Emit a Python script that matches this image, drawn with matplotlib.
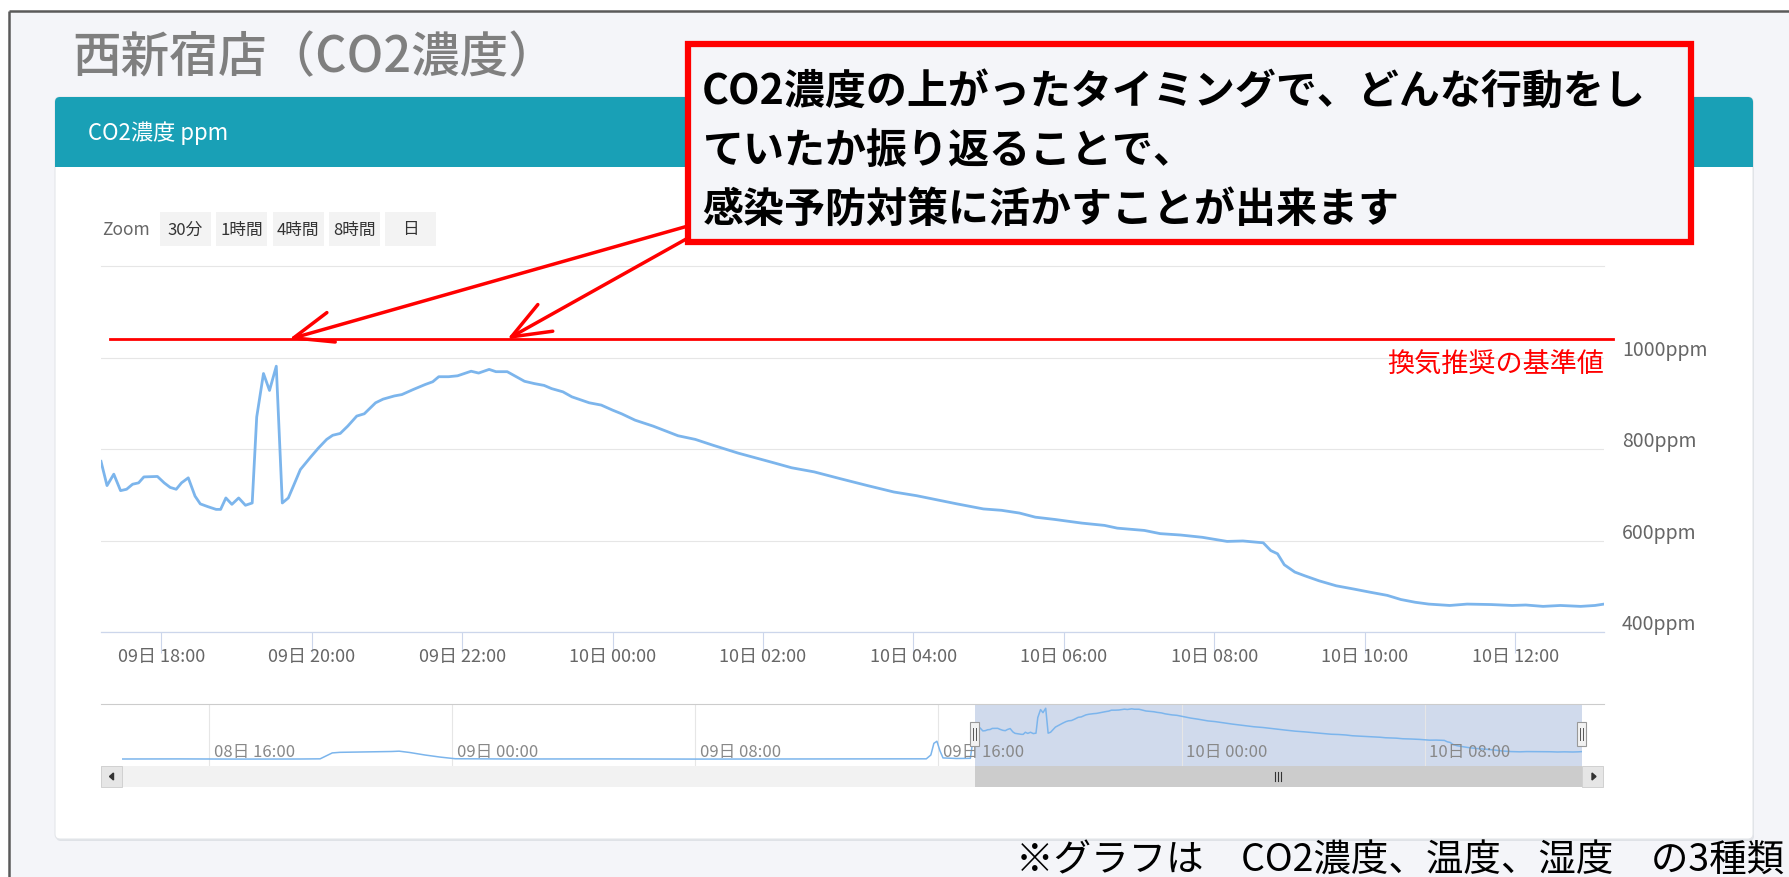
import matplotlib.pyplot as plt
from matplotlib import transforms
from matplotlib.patches import Rectangle, FancyBboxPatch, Polygon

plt.rcParams['font.family'] = ['Noto Sans CJK JP', 'DejaVu Sans']

W, H = 1790, 878

# CO2 readings, hours counted from 09日 00:00
hours = [17.20, 17.28, 17.37, 17.46, 17.54, 17.62, 17.70, 17.77, 17.95, 18.04,
         18.12, 18.20, 18.27, 18.36, 18.45, 18.52, 18.62, 18.73, 18.79, 18.86,
         18.94, 19.03, 19.12, 19.21, 19.27, 19.36, 19.44, 19.53, 19.61, 19.69,
         19.76, 19.85, 19.99, 20.09, 20.20, 20.28, 20.38, 20.48, 20.60, 20.70,
         20.85, 20.95, 21.10, 21.20, 21.35, 21.51, 21.61, 21.69, 21.82, 21.94,
         22.12, 22.22, 22.36, 22.45, 22.60, 22.83, 22.96, 23.09, 23.19, 23.34,
         23.46, 23.69, 23.85, 24.00, 24.12, 24.30, 24.54, 24.87, 25.10, 25.34,
         25.67, 26.14, 26.38, 26.68, 27.03, 27.39, 27.74, 28.04, 28.34, 28.58,
         28.93, 29.17, 29.41, 29.62, 29.88, 30.24, 30.54, 30.71, 31.07, 31.28,
         31.55, 31.84, 32.17, 32.38, 32.58, 32.65, 32.75, 32.84, 32.93, 33.07,
         33.20, 33.39, 33.62, 33.85, 34.07, 34.30, 34.48, 34.67, 34.85, 35.13,
         35.36, 35.68, 35.96, 36.14, 36.37, 36.60, 36.87, 37.06, 37.18]
co2 = [773, 720, 745, 709, 712, 723, 726, 739, 740, 726,
       716, 712, 726, 737, 697, 680, 674, 668, 668, 693,
       679, 693, 677, 682, 870, 965, 928, 981, 682, 693,
       720, 755, 783, 802, 821, 830, 834, 850, 872, 877,
       901, 909, 916, 919, 930, 941, 947, 958, 958, 960,
       970, 966, 974, 969, 969, 948, 943, 939, 932, 925,
       914, 901, 896, 885, 877, 863, 850, 829, 821, 808,
       791, 770, 759, 750, 735, 720, 706, 698, 688, 680,
       669, 666, 660, 651, 646, 638, 633, 627, 622, 615,
       612, 607, 598, 599, 596, 595, 578, 571, 547, 531,
       523, 512, 501, 494, 487, 480, 471, 465, 461, 458,
       461, 460, 458, 459, 456, 458, 456, 458, 461]

# earlier readings only shown in the navigator
nav_hours_before = [-10.87, -9.0, -7.0, -5.0, -4.35, -4.15, -3.95, -3.7, -3.2, -2.6,
                    -2.0, -1.75, -1.4, -0.9, -0.4, 0.1, 2.0, 5.0, 8.0, 11.0,
                    14.0, 15.6, 15.75, 15.85, 15.95, 16.05, 16.15, 16.6, 17.05]
nav_co2_before = [372, 373, 371, 372, 374, 410, 445, 452, 455, 458,
                  462, 466, 450, 420, 395, 375, 372, 373, 371, 372,
                  373, 374, 420, 560, 585, 470, 385, 378, 380]

x_ticks = [18, 20, 22, 24, 26, 28, 30, 32, 34, 36]
x_tick_labels = ['09日 18:00', '09日 20:00', '09日 22:00', '10日 00:00', '10日 02:00',
                 '10日 04:00', '10日 06:00', '10日 08:00', '10日 10:00', '10日 12:00']
y_ticks = [400, 600, 800, 1000]
y_tick_labels = ['400ppm', '600ppm', '800ppm', '1000ppm']
nav_ticks = [-8, 0, 8, 16, 24, 32]
nav_tick_labels = ['08日 16:00', '09日 00:00', '09日 08:00', '09日 16:00', '10日 00:00', '10日 08:00']
zoom_buttons = ['30分', '1時間', '4時間', '8時間', '日']

title = '西新宿店（CO2濃度）'
panel_title = 'CO2濃度 ppm'
ref_label = '換気推奨の基準値'
ref_line = 1040
callout_lines = ['CO2濃度の上がったタイミングで、どんな行動をし',
                 'ていたか振り返ることで、',
                 '感染予防対策に活かすことが出来ます']
arrow_tips = [19.7, 22.6]
note = '※グラフは　CO2濃度、温度、湿度　の3種類'

PAGE = '#f4f5f9'
TEAL = '#19a0b6'
LINE = '#7cb5ec'

fig = plt.figure(figsize=(W / 100, H / 100), dpi=100)
fig.patch.set_facecolor('white')

# background layer in pixel coordinates
bg = fig.add_axes([0, 0, 1, 1], zorder=0)
bg.set_xlim(0, W)
bg.set_ylim(H, 0)
bg.axis('off')

bg.add_patch(Rectangle((9, 12), W - 9, H - 12, facecolor=PAGE, edgecolor='none'))
bg.plot([9, 9], [12, H], color='#5a5a5a', lw=1.8, solid_capstyle='butt')
bg.plot([9, W], [12, 12], color='#5a5a5a', lw=1.8, solid_capstyle='butt')

bg.text(72, 58, title, fontsize=35, fontweight='medium', color='#7f7f7f', va='center', ha='left')

# card
bg.add_patch(FancyBboxPatch((56, 100), 1698, 742, boxstyle='round,pad=0,rounding_size=5',
                            facecolor='#dfe2e7', edgecolor='none'))
bg.add_patch(FancyBboxPatch((55, 98), 1698, 742, boxstyle='round,pad=0,rounding_size=5',
                            facecolor='white', edgecolor='#e4e6ea', lw=0.8))
bg.add_patch(FancyBboxPatch((55, 98), 1698, 70, boxstyle='round,pad=0,rounding_size=5',
                            facecolor=TEAL, edgecolor='none'))
bg.add_patch(Rectangle((55, 140), 1698, 28, facecolor=TEAL, edgecolor='none'))
bg.text(88, 133, panel_title, fontsize=16, color='white', va='center', ha='left')

# zoom buttons
bg.text(102, 230, 'Zoom', fontsize=12.5, color='#666666', va='center', ha='left')
for i, lab in enumerate(zoom_buttons):
    x0 = 160 + i * 56.3
    bg.add_patch(Rectangle((x0, 213), 51, 34, facecolor='#f3f3f3', edgecolor='none'))
    bg.text(x0 + 25.5, 230, lab, fontsize=12, color='#333333', va='center', ha='center')

bg.text(1016, 860, note, fontsize=27, color='black', va='center', ha='left')

# main chart
ax = fig.add_axes([101 / W, 1 - 633 / H, 1503 / W, 366 / H], zorder=2)
ax.patch.set_alpha(0)
ax.plot(hours, co2, color=LINE, lw=2.0, solid_joinstyle='round', zorder=2)
ax.set_xlim(hours[0], hours[-1])
ax.set_ylim(400, 1200)
for s in ['left', 'right']:
    ax.spines[s].set_visible(False)
ax.spines['top'].set_color('#e6e6e6')
ax.spines['top'].set_linewidth(0.8)
ax.spines['bottom'].set_color('#ccd6eb')
ax.spines['bottom'].set_linewidth(0.9)
ax.set_yticks(y_ticks)
ax.yaxis.grid(True, color='#e6e6e6', lw=0.8)
ax.set_axisbelow(True)
ax.tick_params(axis='y', length=0, labelleft=False)
ax.set_xticks(x_ticks, x_tick_labels)
ax.tick_params(axis='x', length=15, width=0.8, color='#ccd6eb', pad=-4,
               labelsize=13, labelcolor='#666666')

ylab_tr = transforms.offset_copy(ax.get_yaxis_transform(), fig=fig, x=13, y=6, units='points')
for v, lab in zip(y_ticks, y_tick_labels):
    ax.text(1.0, v, lab, transform=ylab_tr, fontsize=14, color='#666666', va='center', ha='left')

ax.axhline(ref_line, xmin=0.006, xmax=1.006, color='red', lw=2.0, clip_on=False, zorder=3)
ref_tr = transforms.offset_copy(ax.get_yaxis_transform(), fig=fig, x=0, y=-8.5, units='points')
ax.text(1.0, ref_line, ref_label, transform=ref_tr, fontsize=19.5, color='red', va='top', ha='right')

# navigator
nav_x0 = nav_hours_before[0]
nav_x1 = hours[-1]
nav = fig.add_axes([122 / W, 1 - 767 / H, 1460 / W, 62 / H], zorder=2)
nav.patch.set_alpha(0)
nav.plot(nav_hours_before + hours, nav_co2_before + co2, color=LINE, lw=1.1)
nav.set_xlim(nav_x0, nav_x1)
nav.set_ylim(288, 1032)
for s in nav.spines.values():
    s.set_visible(False)
nav.set_xticks(nav_ticks)
nav.set_yticks([])
nav.tick_params(length=0, labelbottom=False, labelleft=False)
nav.grid(axis='x', color='#e6e6e6', lw=0.8)
nav.axvspan(hours[0], hours[-1], color=(0.4, 0.52, 0.76, 0.3), lw=0)
nav_tr = transforms.offset_copy(nav.get_xaxis_transform(), fig=fig, x=3.2, units='points')
for t, lab in zip(nav_ticks, nav_tick_labels):
    nav.text(t, 0.24, lab, transform=nav_tr, fontsize=12, color='#888888', va='center', ha='left')

# overlay: navigator frame, scrollbar, callout
ov = fig.add_axes([0, 0, 1, 1], zorder=5)
ov.set_xlim(0, W)
ov.set_ylim(H, 0)
ov.axis('off')
ov.patch.set_alpha(0)

sel_l = 122 + (hours[0] - nav_x0) / (nav_x1 - nav_x0) * 1460
sel_r = 122 + (hours[-1] - nav_x0) / (nav_x1 - nav_x0) * 1460

ov.plot([101, 1604], [705, 705], color='#cccccc', lw=0.8)
ov.add_patch(Rectangle((101, 767), 1503, 21, facecolor='#f2f2f2', edgecolor='none'))
ov.add_patch(Rectangle((sel_l, 767), sel_r - sel_l, 21, facecolor='#cccccc', edgecolor='none'))
for bx in (101, 1582):
    ov.add_patch(Rectangle((bx, 767), 21, 21, facecolor='#e6e6e6', edgecolor='#cccccc', lw=0.6))
ov.add_patch(Polygon([[109.5, 777.5], [113.5, 774], [113.5, 781]], closed=True, color='#333333'))
ov.add_patch(Polygon([[1596, 777.5], [1592, 774], [1592, 781]], closed=True, color='#333333'))
gc = (sel_l + sel_r) / 2
for dx in (-3, 0, 3):
    ov.plot([gc + dx, gc + dx], [773, 782], color='#333333', lw=0.8)
for hx in (sel_l, sel_r):
    ov.add_patch(Rectangle((hx - 4.5, 723), 9, 24, facecolor='#f2f2f2', edgecolor='#999999', lw=0.8))
    for dx in (-1.5, 1.5):
        ov.plot([hx + dx, hx + dx], [729, 741], color='#555555', lw=0.7)

ov.add_patch(Rectangle((688, 45), 1003, 198, facecolor=PAGE, edgecolor='#ff0000', lw=4.5, zorder=5))
for i, line in enumerate(callout_lines):
    ov.text(702, 92 + i * 59, line, fontsize=29.5, fontweight='bold', color='black',
            va='center', ha='left', zorder=6)

for tip, start in zip(arrow_tips, [(688, 227), (688, 239)]):
    ov.annotate('', xy=(tip, ref_line), xycoords=ax.transData, xytext=start, textcoords='data',
                arrowprops=dict(arrowstyle='->,head_length=1.4,head_width=0.55', color='#ff0000',
                                lw=2.5, shrinkA=0, shrinkB=0, mutation_scale=20),
                annotation_clip=False, zorder=4)

fig.savefig('out.png', dpi=100)
